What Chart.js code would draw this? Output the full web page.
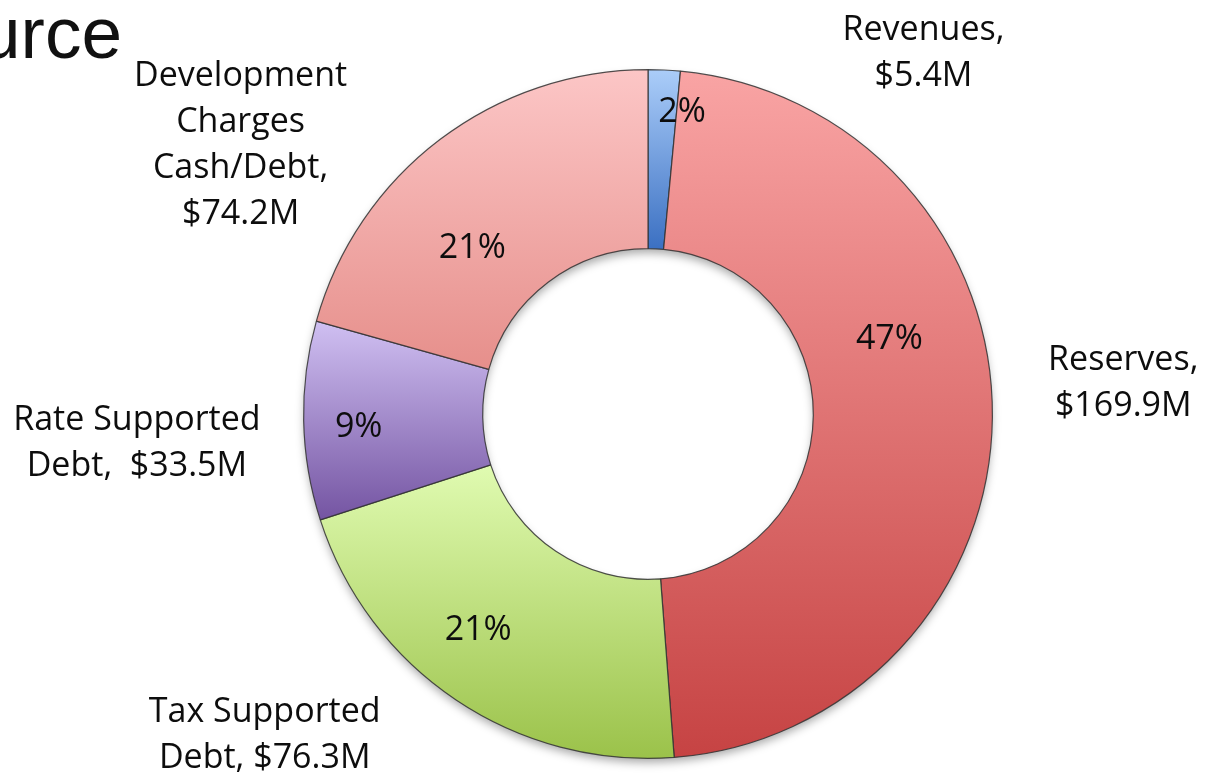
<!DOCTYPE html>
<html>
<head>
<meta charset="utf-8">
<script src="https://cdn.jsdelivr.net/npm/chart.js@4/dist/chart.umd.min.js"></script>
<style>
  html, body { margin: 0; padding: 0; background: #fff; }
  #caixa { width: 1209px; height: 776px; position: relative; }
</style>
</head>
<body>
<div id="caixa"><canvas id="fontes"></canvas></div>
<script>
// dados do grafico
const categorias = ['Revenues', 'Reserves', 'Tax Supported Debt', 'Rate Supported Debt', 'Development Charges Cash/Debt'];
const valores = [5.4, 169.9, 76.3, 33.5, 74.2];
const rotulosPct = ['2%', '47%', '21%', '9%', '21%'];
const rotulosFora = [
  ['Revenues,', '$5.4M'],
  ['Reserves,', '$169.9M'],
  ['Tax Supported', 'Debt, $76.3M'],
  ['Rate Supported', 'Debt,  $33.5M'],
  ['Development', 'Charges', 'Cash/Debt,', '$74.2M']
];

// cores (topo -> base de cada fatia)
const corTopo = ['#abcdf9', '#f9a4a4', '#e0fbb1', '#d0c0f2', '#fcc6c6'];
const corBase = ['#3b70c2', '#c64343', '#9bc24a', '#7454a2', '#e68f8b'];

// posicao dos textos, relativo ao centro, em raios
const posPct = [[0.099, -0.876], [0.701, -0.216], [-0.493, 0.628], [-0.840, 0.040], [-0.510, -0.480]];
const posFora = [[0.80, -1.048], [1.380, -0.090], [-1.113, 0.934], [-1.484, 0.085], [-1.183, -0.780]];

const fonteTexto = '34px "Open Sans", "DejaVu Sans", sans-serif';

// faixa vertical de cada fatia para o degrade
function faixaY(chart, i) {
  const area = chart.chartArea;
  const cx = (area.left + area.right) / 2;
  const cy = (area.top + area.bottom) / 2;
  const ctrl = chart.getDatasetMeta(0).controller;
  const rOut = ctrl.outerRadius || Math.min(area.width, area.height) / 2;
  const rIn = ctrl.innerRadius || rOut * 0.48;
  const total = valores.reduce((a, b) => a + b, 0);
  let ini = 0;
  for (let k = 0; k < i; k++) ini += valores[k];
  const a0 = -Math.PI / 2 + ini / total * Math.PI * 2;
  const a1 = a0 + valores[i] / total * Math.PI * 2;
  let min = Infinity, max = -Infinity;
  for (let s = 0; s <= 60; s++) {
    const a = a0 + (a1 - a0) * s / 60;
    for (const r of [rOut, rIn]) {
      const y = cy + r * Math.sin(a);
      if (y < min) min = y;
      if (y > max) max = y;
    }
  }
  return [min, max];
}

const sombraAnel = {
  id: 'sombraAnel',
  beforeDatasetsDraw(chart) {
    const arc = chart.getDatasetMeta(0).data[0];
    if (!arc) return;
    const c = chart.ctx;
    c.save();
    c.shadowColor = 'rgba(0,0,0,0.35)';
    c.shadowBlur = 10;
    c.shadowOffsetY = 5;
    c.fillStyle = '#999';
    c.beginPath();
    c.arc(arc.x, arc.y, arc.outerRadius - 1, 0, Math.PI * 2);
    c.arc(arc.x, arc.y, arc.innerRadius + 1, 0, Math.PI * 2, true);
    c.fill();
    c.restore();
  }
};

const textos = {
  id: 'textos',
  afterDatasetsDraw(chart) {
    const arc = chart.getDatasetMeta(0).data[0];
    if (!arc) return;
    const c = chart.ctx;
    const R = arc.outerRadius;
    c.save();
    c.font = fonteTexto;
    c.fillStyle = '#0d0d0d';
    c.textAlign = 'center';
    c.textBaseline = 'middle';
    rotulosPct.forEach((t, i) => {
      c.fillText(t, arc.x + posPct[i][0] * R, arc.y + posPct[i][1] * R);
    });
    const alt = 46;
    rotulosFora.forEach((linhas, i) => {
      const x = arc.x + posFora[i][0] * R;
      const y0 = arc.y + posFora[i][1] * R - (linhas.length - 1) * alt / 2;
      linhas.forEach((l, j) => c.fillText(l, x, y0 + j * alt));
    });
    // titulo cortado na borda
    c.font = '73px "Liberation Sans", Arial, sans-serif';
    c.textAlign = 'right';
    c.textBaseline = 'alphabetic';
    c.fillStyle = '#111';
    c.fillText('Source', 122, 58);
    c.restore();
  }
};

const ctx1 = document.getElementById('fontes');
let graficoFontes = new Chart(ctx1, {
  type: 'doughnut',
  data: {
    labels: categorias,
    datasets: [{
      data: valores,
      backgroundColor: (context) => {
        const chart = context.chart;
        const i = context.dataIndex;
        if (!chart.chartArea || i === undefined) return corTopo[i || 0];
        const [y0, y1] = faixaY(chart, i);
        const g = chart.ctx.createLinearGradient(0, y0, 0, y1);
        g.addColorStop(0, corTopo[i]);
        g.addColorStop(1, corBase[i]);
        return g;
      },
      borderColor: 'rgba(50,50,50,0.85)',
      borderWidth: 1.2
    }]
  },
  options: {
    responsive: true,
    maintainAspectRatio: false,
    animation: false,
    cutout: '48%',
    layout: { padding: { top: 69, bottom: 17, left: 87, right: 0 } },
    plugins: {
      legend: { display: false },
      tooltip: { enabled: false }
    }
  },
  plugins: [sombraAnel, textos]
});
</script>
</body>
</html>
